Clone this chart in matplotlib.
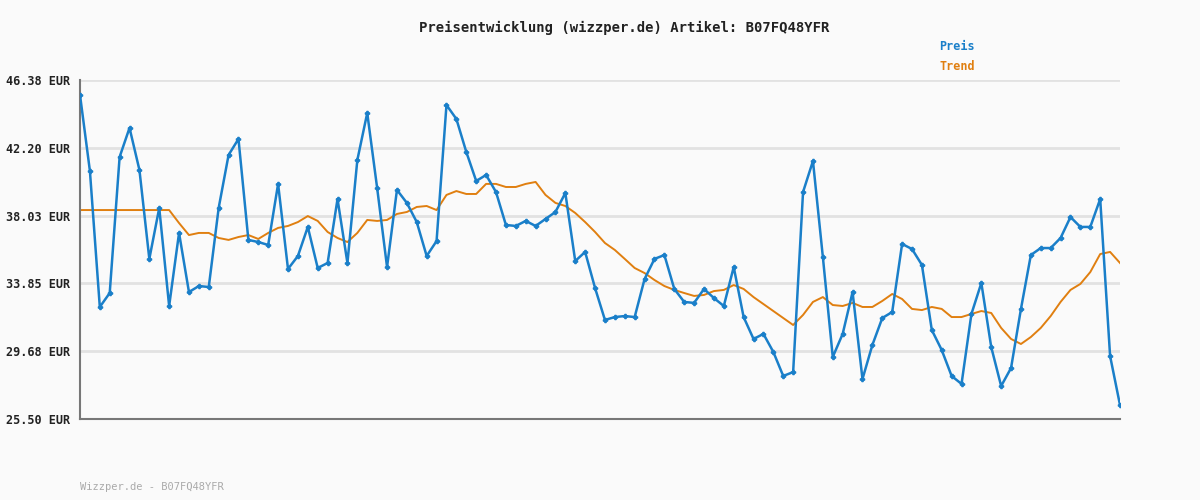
import matplotlib
matplotlib.use('Agg')
import matplotlib.pyplot as plt
import numpy as np

price = [45.46, 40.78, 32.40, 33.26, 41.64, 43.43, 40.84, 35.36, 38.50, 32.46,
         36.96, 33.32, 33.69, 33.63, 38.50, 41.76, 42.75, 36.53, 36.40, 36.22,
         39.98, 34.74, 35.54, 37.33, 34.80, 35.11, 39.05, 35.11, 41.45, 44.35,
         39.73, 34.86, 39.61, 38.81, 37.63, 35.54, 36.46, 44.84, 43.98, 41.95,
         40.16, 40.53, 39.48, 37.45, 37.39, 37.70, 37.39, 37.82, 38.25, 39.42,
         35.23, 35.79, 33.57, 31.60, 31.78, 31.84, 31.78, 34.12, 35.36, 35.60,
         33.51, 32.71, 32.65, 33.51, 32.95, 32.46, 34.86, 31.78, 30.43, 30.74,
         29.63, 28.15, 28.39, 39.48, 41.39, 35.48, 29.32, 30.74, 33.32, 27.96,
         30.06, 31.72, 32.09, 36.28, 35.97, 34.99, 30.98, 29.75, 28.15, 27.66,
         31.97, 33.88, 29.93, 27.53, 28.64, 32.28, 35.60, 36.03, 36.03, 36.65,
         37.94, 37.33, 37.33, 39.05, 29.38, 26.36]

trend = [38.37] * 10 + [
         37.57, 36.83, 36.96, 36.96, 36.65, 36.53, 36.71, 36.83, 36.59, 36.96,
         37.27, 37.39, 37.63, 38.00, 37.70, 37.02, 36.65, 36.40, 36.96, 37.76,
         37.70, 37.76, 38.13, 38.25, 38.56, 38.62, 38.37, 39.30, 39.54, 39.36,
         39.36, 39.98, 39.98, 39.79, 39.79, 39.98, 40.10, 39.30, 38.81, 38.62,
         38.19, 37.63, 37.02, 36.34, 35.91, 35.36, 34.80, 34.49, 34.06, 33.69,
         33.45, 33.26, 33.08, 33.14, 33.38, 33.45, 33.75, 33.51, 33.01, 32.58,
         32.15, 31.72, 31.29, 31.91, 32.71, 33.01, 32.52, 32.46, 32.65, 32.40,
         32.40, 32.77, 33.20, 32.89, 32.28, 32.21, 32.40, 32.28, 31.78, 31.78,
         31.97, 32.15, 32.03, 31.11, 30.43, 30.12, 30.55, 31.11, 31.84, 32.71,
         33.45, 33.82, 34.55, 35.66, 35.79, 35.11]

yticks = [25.50, 29.68, 33.85, 38.03, 42.20, 46.38]
title = "Preisentwicklung (wizzper.de) Artikel: B07FQ48YFR"
footer = "Wizzper.de - B07FQ48YFR"

BLUE = '#1a7fc9'
ORANGE = '#e07f10'
BG = '#fafafa'

plt.rcParams['font.family'] = 'DejaVu Sans Mono'
fig = plt.figure(figsize=(12, 5), dpi=100, facecolor=BG)
ax = fig.add_axes([80 / 1200, 1 - 419 / 500, 1040 / 1200, 339 / 500], facecolor=BG)

x = np.arange(len(price))
ax.plot(x, price, color=BLUE, lw=1.8, marker='P', ms=3, zorder=3)
ax.plot(np.arange(len(trend)), trend, color=ORANGE, lw=1.4, zorder=2)

ax.set_xlim(0, len(price) - 1)
ax.set_ylim(yticks[0], yticks[-1])
ax.set_yticks(yticks)
ax.set_yticklabels([f"{v:.2f} EUR" for v in yticks], fontsize=8.5, color='#222222', weight='bold')
ax.set_xticks([])
ax.yaxis.grid(True, color='#e2e2e2', lw=2)
ax.set_axisbelow(True)
ax.tick_params(axis='y', length=0, pad=7)
for s in ['top', 'right']:
    ax.spines[s].set_visible(False)
for s in ['left', 'bottom']:
    ax.spines[s].set_color('#777777')
    ax.spines[s].set_linewidth(1.5)

fig.text(0.52, 1 - 28 / 500, title, ha='center', va='center', fontsize=10, color='#222222', weight='bold')
fig.text(957 / 1200, 1 - 47 / 500, "Preis", ha='center', va='center', fontsize=8.5, color=BLUE, weight='bold')
fig.text(957 / 1200, 1 - 67 / 500, "Trend", ha='center', va='center', fontsize=8.5, color=ORANGE, weight='bold')
fig.text(80 / 1200, 1 - 487 / 500, footer, ha='left', va='center', fontsize=7.5, color='#aaaaaa')

fig.savefig('out.png', dpi=100, facecolor=BG)
